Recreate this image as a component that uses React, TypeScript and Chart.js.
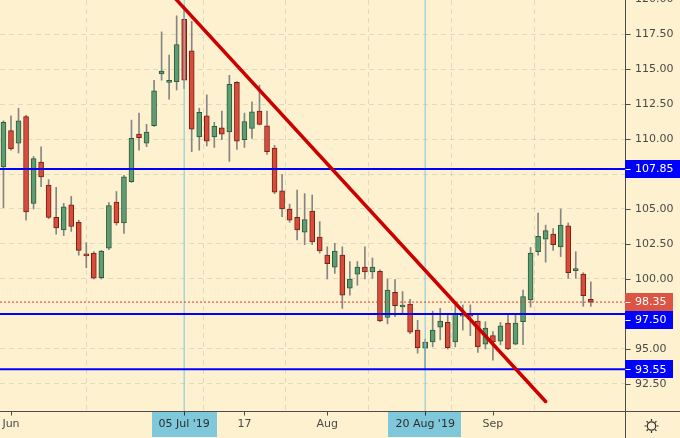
import React, { useEffect, useRef } from 'react';
import { Chart, registerables } from 'chart.js';

Chart.register(...registerables);

// Trading days from 31 May 2019 (index 0) to 20 Sep 2019 (index 78)
const opens = [
  108.0, 110.6, 109.7, 111.6, 105.4, 108.35, 106.7, 104.4, 103.5, 105.3,
  104.05, 101.7, 101.85, 100.1, 102.2, 105.5, 104.0, 106.95, 110.35, 109.7,
  110.95, 114.65, 114.05, 114.1, 118.55, 116.3, 110.15, 111.65, 110.15, 110.8,
  110.5, 114.05, 109.95, 110.75, 112.0, 110.95, 109.35, 106.3, 105.0, 104.4,
  103.35, 104.85, 103.0, 101.7, 100.85, 101.7, 99.35, 100.35, 100.85, 100.5,
  100.55, 97.25, 99.05, 98.0, 98.2, 96.35, 95.05, 95.5, 96.55, 96.9,
  95.5, 97.35, 97.4, 97.0, 95.35, 95.95, 95.55, 96.85, 95.35, 96.95,
  98.5, 101.95, 102.85, 103.2, 102.3, 103.8, 100.6, 100.35, 98.55,
];
const highs = [
  111.3, 111.65, 112.2, 111.7, 108.75, 109.45, 107.1, 106.55, 105.4, 105.9,
  104.2, 102.6, 101.95, 102.05, 105.45, 106.25, 107.4, 111.35, 111.85, 111.05,
  114.2, 117.65, 116.0, 118.8, 119.5, 118.4, 112.2, 113.15, 111.2, 112.0,
  114.55, 114.1, 111.85, 112.65, 113.85, 112.0, 109.55, 107.45, 105.35, 106.35,
  106.1, 106.0, 104.1, 102.3, 102.55, 102.3, 101.25, 101.25, 102.3, 101.5,
  100.65, 100.0, 99.95, 99.1, 98.55, 97.05, 95.7, 97.7, 97.9, 97.45,
  98.15, 98.15, 98.15, 97.45, 96.95, 96.25, 96.9, 97.5, 97.45, 99.2,
  102.25, 104.7, 103.85, 103.6, 105.0, 104.0, 101.95, 100.45, 99.8,
];
const lows = [
  105.1, 109.2, 109.0, 104.2, 105.0, 106.6, 104.3, 103.2, 103.1, 103.4,
  101.7, 100.8, 100.0, 100.0, 102.1, 103.85, 103.25, 106.9, 109.2, 109.45,
  110.9, 114.2, 112.85, 113.5, 113.6, 109.1, 109.2, 109.5, 109.4, 109.95,
  108.4, 109.25, 109.4, 110.05, 111.0, 108.9, 106.1, 104.45, 104.05, 102.8,
  102.45, 102.45, 101.85, 100.0, 100.4, 97.9, 98.85, 99.55, 100.0, 100.05,
  96.95, 96.8, 97.3, 97.45, 96.1, 94.7, 93.6, 95.15, 95.65, 95.0,
  95.15, 96.35, 95.95, 94.75, 95.0, 94.2, 95.3, 94.95, 95.3, 95.3,
  98.0, 101.7, 101.2, 102.05, 101.6, 100.05, 100.05, 98.05, 98.05,
];
const closes = [
  111.2, 109.3, 111.3, 104.8, 108.6, 107.3, 104.4, 103.65, 105.15, 103.75,
  102.05, 101.65, 100.05, 102.0, 105.25, 104.0, 107.3, 110.05, 110.1, 110.5,
  113.45, 114.85, 114.1, 116.75, 114.2, 110.7, 111.9, 109.85, 110.9, 110.35,
  113.9, 109.85, 111.25, 111.95, 111.05, 109.1, 106.2, 105.0, 104.2, 103.5,
  104.25, 102.65, 102.0, 101.1, 102.0, 98.85, 100.0, 100.85, 100.5, 100.85,
  97.0, 99.2, 98.1, 98.05, 96.2, 95.1, 95.5, 96.35, 97.0, 95.1,
  97.5, 97.4, 97.35, 95.15, 96.5, 95.5, 96.65, 95.0, 96.85, 98.75,
  101.85, 103.05, 103.45, 102.45, 103.85, 100.45, 100.65, 98.8, 98.35,
];

const yTicks = [92.5, 95, 97.5, 100, 102.5, 105, 107.5, 110, 112.5, 115, 117.5];
const yTopLabel = 120;
const xTickIdx = [1, 21, 32, 43, 54, 65];
const xTickLabels = ['Jun', 'Jul', '17', 'Aug', '16', 'Sep'];
const markerIdx = [24, 56];
const markerLabels = ["05 Jul '19", "20 Aug '19"];
const levels = [107.85, 97.5, 93.55];
const lastPrice = 98.35;
const trendPoints = [
  { x: 22, y: 120.52 },
  { x: 72, y: 91.25 },
];

const X_MIN = -0.46;
const X_MAX = 82.54;
const Y_MIN = 90.57;
const Y_MAX = 119.93;

const BG = '#fdf1cf';
const GRID = 'rgba(150,150,150,0.28)';
const TXT = '#4a4a4a';
const AXIS = '#4d4d4d';
const BLUE = '#0000ff';
const CYAN = '#7fc7db';
const LASTRED = '#dc5444';
const FONT = 'DejaVu Sans';

const decor = {
  id: 'decor',
  beforeDraw(chart: any) {
    const ctx = chart.ctx;
    ctx.save();
    ctx.fillStyle = BG;
    ctx.fillRect(0, 0, chart.width, chart.height);
    ctx.restore();
  },
  afterDraw(chart: any) {
    const { ctx, chartArea: ca, scales } = chart;
    const xs = scales.x;
    const ys = scales.y;
    const bottom = Math.round(ca.bottom) + 0.5;
    const right = Math.round(ca.right) + 0.5;
    ctx.save();
    ctx.font = `11px "${FONT}"`;

    // 120.00 label partially above the area
    ctx.fillStyle = TXT;
    ctx.textBaseline = 'middle';
    ctx.textAlign = 'left';
    ctx.fillText(yTopLabel.toFixed(2), ca.right + 10, ys.getPixelForValue(yTopLabel));

    // axis lines
    ctx.strokeStyle = AXIS;
    ctx.lineWidth = 1;
    ctx.beginPath();
    ctx.moveTo(0, bottom);
    ctx.lineTo(chart.width, bottom);
    ctx.moveTo(right, 0);
    ctx.lineTo(right, chart.height);
    // y tick marks
    [...yTicks, yTopLabel].forEach((v) => {
      const py = Math.round(ys.getPixelForValue(v)) + 0.5;
      ctx.moveTo(right, py);
      ctx.lineTo(right + 5, py);
    });
    // x tick marks
    xTickIdx.forEach((v) => {
      const px = Math.round(xs.getPixelForValue(v)) + 0.5;
      ctx.moveTo(px, bottom);
      ctx.lineTo(px, bottom + 4);
    });
    ctx.stroke();

    // date marker boxes
    markerIdx.forEach((v, i) => {
      const px = xs.getPixelForValue(v);
      const w = ctx.measureText(markerLabels[i]).width + 14;
      ctx.fillStyle = CYAN;
      ctx.fillRect(Math.round(px - w / 2), bottom + 0.5, Math.round(w), 25);
      ctx.strokeStyle = '#333';
      ctx.beginPath();
      ctx.moveTo(Math.round(px) + 0.5, bottom);
      ctx.lineTo(Math.round(px) + 0.5, bottom + 4);
      ctx.stroke();
      ctx.fillStyle = '#2e2e2e';
      ctx.textAlign = 'center';
      ctx.textBaseline = 'middle';
      ctx.fillText(markerLabels[i], px, ca.bottom + 13);
    });

    // price boxes on the right axis
    const boxes = [
      ...levels.map((v) => ({ v, color: BLUE })),
      { v: lastPrice, color: LASTRED },
    ].sort((a, b) => b.v - a.v);
    const h = 18;
    let prevBottom = -Infinity;
    ctx.textAlign = 'left';
    ctx.textBaseline = 'middle';
    boxes.forEach((b) => {
      let cy = ys.getPixelForValue(b.v);
      if (cy - h / 2 < prevBottom) cy = prevBottom + h / 2;
      prevBottom = cy + h / 2;
      const label = b.v.toFixed(2);
      const w = ctx.measureText(label).width + 17;
      ctx.fillStyle = b.color;
      ctx.fillRect(Math.round(ca.right), Math.round(cy - h / 2), Math.round(w), h);
      ctx.strokeStyle = '#ffffff';
      ctx.beginPath();
      ctx.moveTo(right, Math.round(cy) + 0.5);
      ctx.lineTo(right + 5, Math.round(cy) + 0.5);
      ctx.stroke();
      ctx.fillStyle = '#ffffff';
      ctx.fillText(label, ca.right + 10, cy + 0.5);
    });

    // settings icon
    const gx = right + 26;
    const gy = ca.bottom + 15;
    ctx.strokeStyle = '#333';
    ctx.lineWidth = 1.2;
    ctx.beginPath();
    ctx.arc(gx, gy, 4.2, 0, Math.PI * 2);
    ctx.stroke();
    ctx.beginPath();
    for (let k = 0; k < 8; k++) {
      const a = (k * Math.PI) / 4;
      ctx.moveTo(gx + Math.cos(a) * 5, gy + Math.sin(a) * 5);
      ctx.lineTo(gx + Math.cos(a) * 7, gy + Math.sin(a) * 7);
    }
    ctx.stroke();
    ctx.restore();
  },
};

export default function App() {
  const ref = useRef<HTMLCanvasElement | null>(null);

  useEffect(() => {
    if (!ref.current) return;
    const idx = opens.map((_, i) => i);
    const up = idx.map((i) => closes[i] >= opens[i]);

    const lineBase = {
      type: 'line' as const,
      pointRadius: 0,
      fill: false,
      tension: 0,
      clip: 0,
    };

    const chart = new Chart(ref.current, {
      type: 'bar',
      data: {
        datasets: [
          {
            ...lineBase,
            data: trendPoints,
            borderColor: '#cc0000',
            borderWidth: 3.5,
            borderCapStyle: 'round',
            order: 1,
          } as any,
          ...levels.map(
            (v) =>
              ({
                ...lineBase,
                data: [
                  { x: X_MIN, y: v },
                  { x: X_MAX, y: v },
                ],
                borderColor: BLUE,
                borderWidth: 2,
                order: 2,
              } as any)
          ),
          {
            ...lineBase,
            data: [
              { x: X_MIN, y: lastPrice },
              { x: X_MAX, y: lastPrice },
            ],
            borderColor: '#e2382c',
            borderWidth: 1,
            borderDash: [2, 2],
            order: 3,
          } as any,
          ...markerIdx.map(
            (m) =>
              ({
                ...lineBase,
                data: [
                  { x: m, y: Y_MIN },
                  { x: m, y: Y_MAX },
                ],
                borderColor: CYAN,
                borderWidth: 1,
                order: 3,
              } as any)
          ),
          {
            type: 'bar',
            data: idx.map((i) => ({ x: i, y: [opens[i], closes[i]] })),
            backgroundColor: idx.map((i) => (up[i] ? '#5f9b73' : '#d84c3b')),
            borderColor: idx.map((i) => (up[i] ? '#2b5d39' : '#7b1e14')),
            borderWidth: 1,
            borderSkipped: false,
            barThickness: 5,
            minBarLength: 2,
            grouped: false,
            order: 4,
          } as any,
          {
            type: 'bar',
            data: idx.map((i) => ({ x: i, y: [lows[i], highs[i]] })),
            backgroundColor: '#858585',
            borderWidth: 0,
            barThickness: 1,
            grouped: false,
            order: 5,
          } as any,
        ],
      },
      options: {
        animation: false,
        responsive: true,
        maintainAspectRatio: false,
        events: [],
        layout: { padding: 0 },
        font: { family: FONT, size: 11 },
        plugins: {
          legend: { display: false },
          tooltip: { enabled: false },
          title: { display: false },
        },
        scales: {
          x: {
            type: 'linear',
            min: X_MIN,
            max: X_MAX,
            offset: false,
            grid: { color: GRID, drawTicks: false, lineWidth: 1 },
            border: { display: false, dash: [5, 4] },
            ticks: {
              autoSkip: false,
              maxRotation: 0,
              padding: 7,
              color: TXT,
              font: { family: FONT, size: 11 },
              callback: (v: any) => {
                const k = xTickIdx.indexOf(Number(v));
                return k >= 0 ? xTickLabels[k] : '';
              },
            },
            afterBuildTicks: (s: any) => {
              s.ticks = xTickIdx.map((v) => ({ value: v }));
            },
            afterFit: (s: any) => {
              s.height = 27;
              s.paddingLeft = 0;
              s.paddingRight = 0;
            },
          },
          y: {
            type: 'linear',
            position: 'right',
            min: Y_MIN,
            max: Y_MAX,
            grid: { color: GRID, drawTicks: false, lineWidth: 1 },
            border: { display: false, dash: [5, 4] },
            ticks: {
              padding: 10,
              color: TXT,
              font: { family: FONT, size: 11 },
              callback: (v: any) => Number(v).toFixed(2),
            },
            afterBuildTicks: (s: any) => {
              s.ticks = yTicks.map((v) => ({ value: v }));
            },
            afterFit: (s: any) => {
              s.width = 55;
              s.paddingTop = 0;
              s.paddingBottom = 0;
            },
          },
        },
      } as any,
      plugins: [decor],
    });
    return () => chart.destroy();
  }, []);

  return (
    <div style={{ position: 'fixed', left: 0, top: 0, width: 680, height: 438, background: BG }}>
      <canvas ref={ref} />
    </div>
  );
}
